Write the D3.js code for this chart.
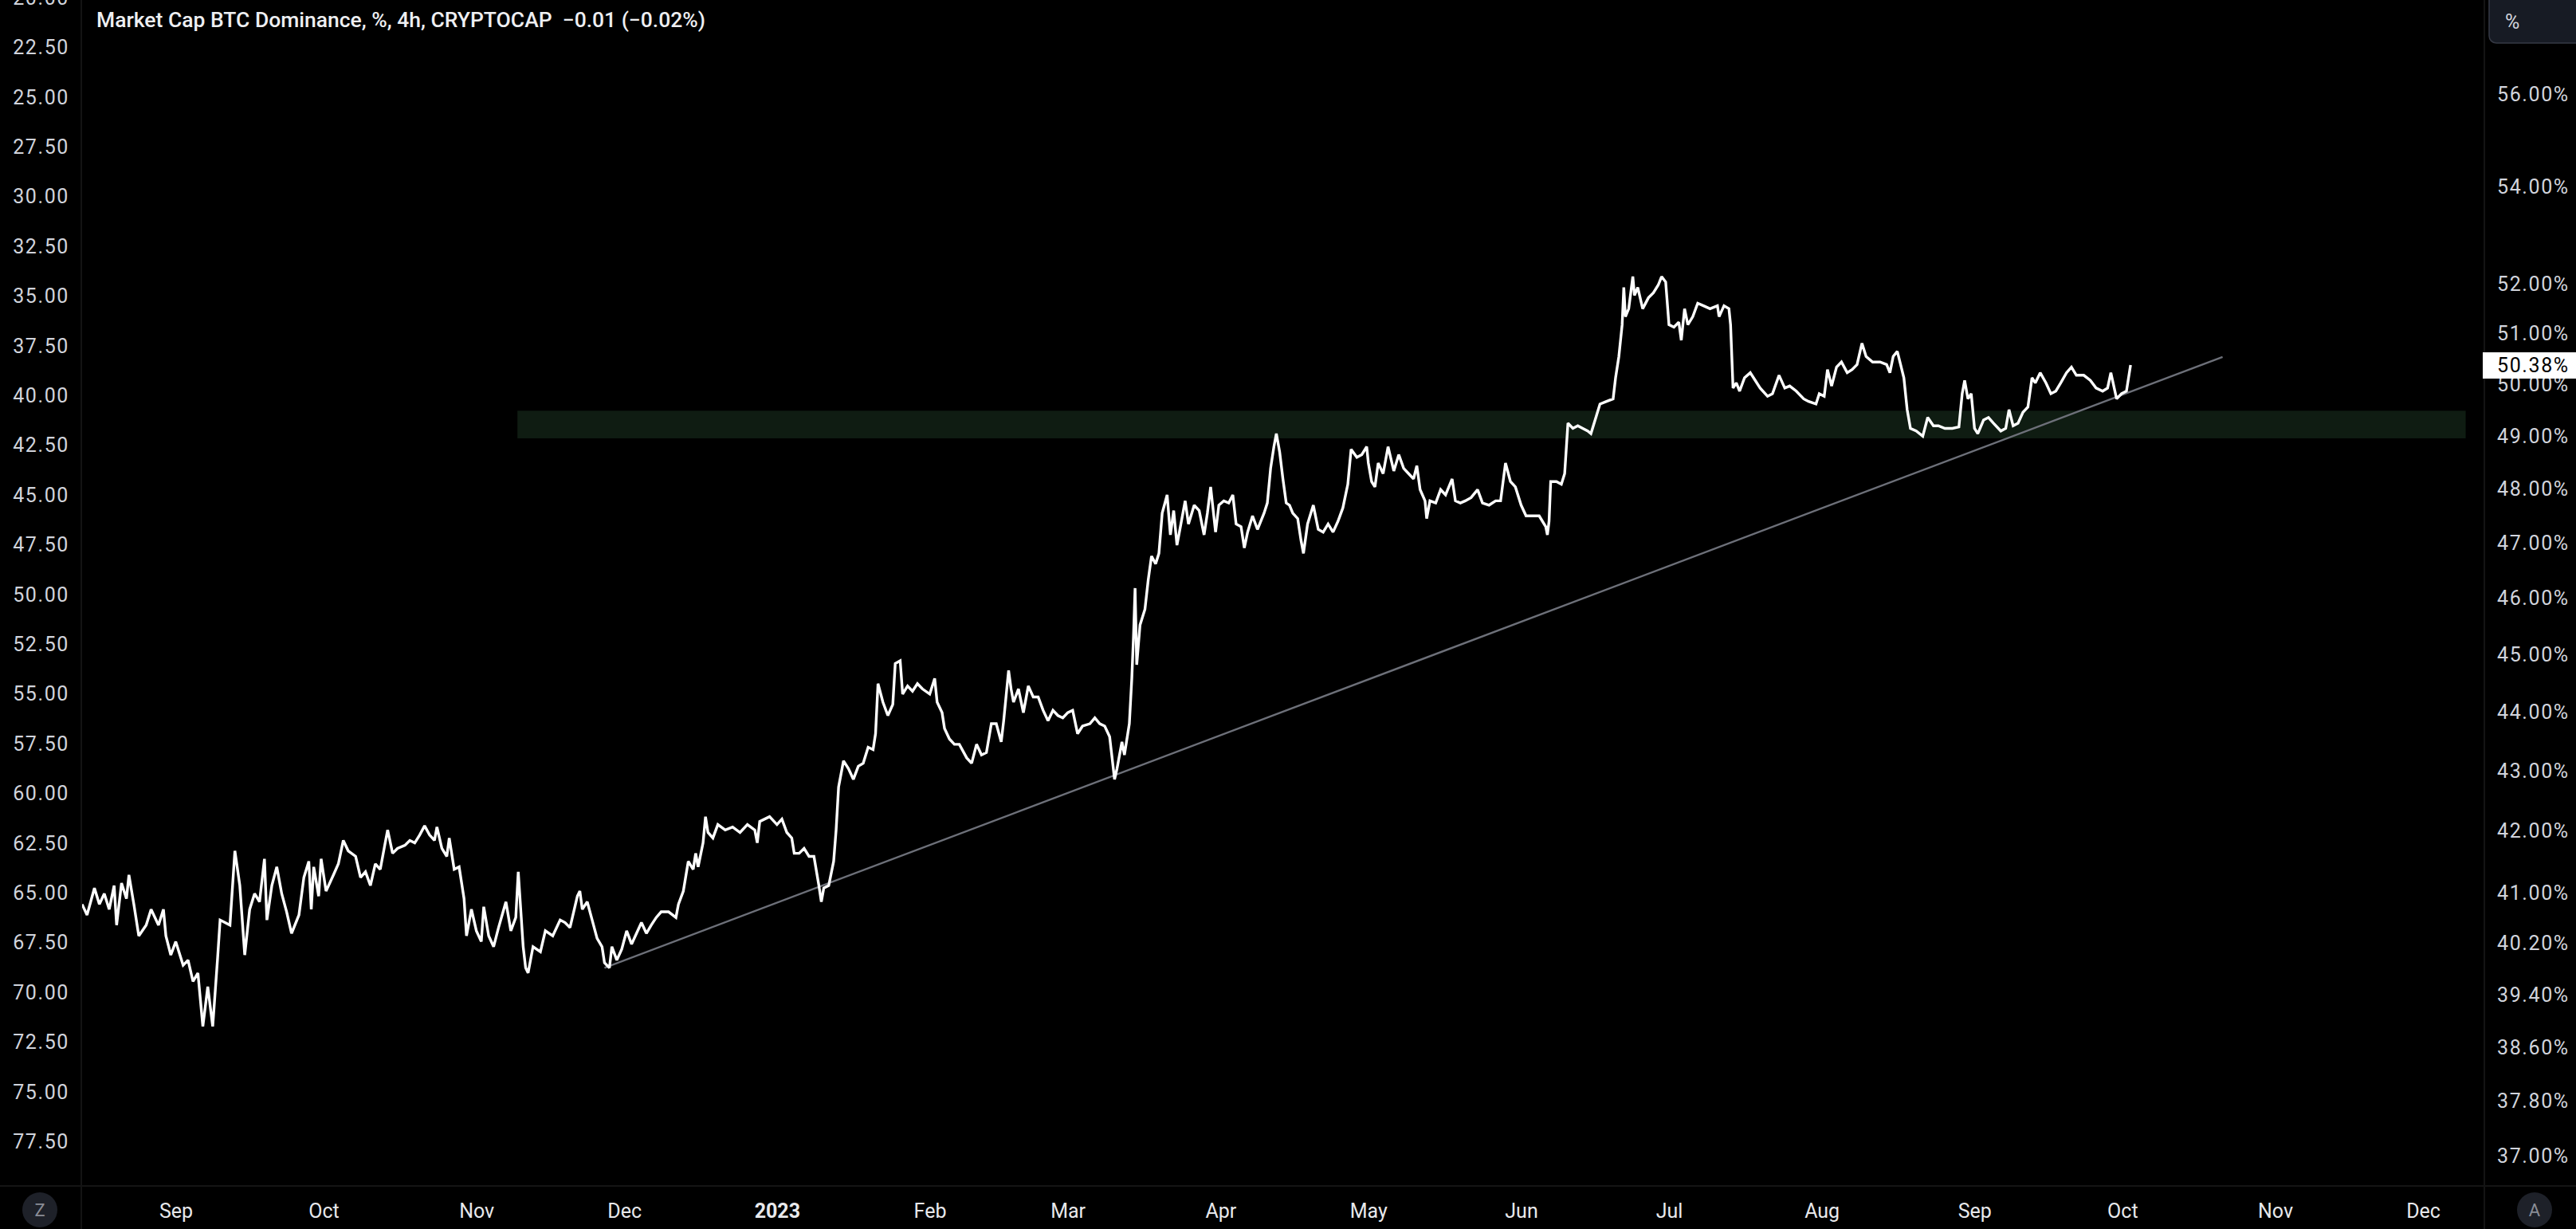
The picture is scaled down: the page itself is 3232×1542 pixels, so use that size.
<!DOCTYPE html>
<html><head><meta charset="utf-8">
<script src="https://cdn.jsdelivr.net/npm/d3@7"></script>
<style>
html,body{margin:0;padding:0;background:#000;overflow:hidden;}
svg{display:block;}
</style></head>
<body>
<svg id="chart" width="3232" height="1542"></svg>
<script>
// ---------------- DATA ----------------
const chartTitle = "Market Cap BTC Dominance, %, 4h, CRYPTOCAP  \u22120.01 (\u22120.02%)";
const lastValue = 50.38;

// BTC dominance (%): [time (UTC, YYYY-MM-DDTHH), value]
const series = [
["2022-08-13T00",40.82],["2022-08-14T00",40.65],["2022-08-15T12",41.08],["2022-08-16T12",40.82],
["2022-08-17T12",40.99],["2022-08-18T12",40.74],["2022-08-19T12",41.12],["2022-08-20T00",40.49],
["2022-08-21T00",41.16],["2022-08-22T00",40.91],["2022-08-22T12",41.29],["2022-08-23T12",40.82],
["2022-08-24T12",40.32],["2022-08-26T00",40.49],["2022-08-27T00",40.74],["2022-08-28T12",40.49],
["2022-08-29T12",40.74],["2022-08-30T00",40.32],["2022-08-31T00",40.02],["2022-09-01T00",40.23],
["2022-09-02T12",39.86],["2022-09-03T12",39.94],["2022-09-04T12",39.61],["2022-09-05T12",39.74],
["2022-09-06T12",38.92],["2022-09-07T12",39.53],["2022-09-08T12",38.92],["2022-09-09T12",39.98],
["2022-09-10T00",40.57],["2022-09-11T00",40.53],["2022-09-12T00",40.49],["2022-09-13T00",41.68],
["2022-09-14T00",41.12],["2022-09-15T00",40.02],["2022-09-16T00",40.74],["2022-09-17T00",40.99],
["2022-09-18T00",40.86],["2022-09-19T00",41.55],["2022-09-19T12",40.57],["2022-09-20T12",41.12],
["2022-09-21T12",41.42],["2022-09-22T12",40.99],["2022-09-23T12",40.70],["2022-09-24T12",40.36],
["2022-09-26T00",40.65],["2022-09-27T00",41.25],["2022-09-28T00",41.51],["2022-09-28T12",40.74],
["2022-09-29T00",41.42],["2022-09-30T00",40.95],["2022-09-30T12",41.55],["2022-10-01T12",41.03],
["2022-10-03T00",41.29],["2022-10-04T00",41.47],["2022-10-05T00",41.85],["2022-10-06T00",41.68],
["2022-10-07T12",41.59],["2022-10-08T12",41.25],["2022-10-09T12",41.34],["2022-10-10T12",41.12],
["2022-10-11T12",41.47],["2022-10-12T12",41.38],["2022-10-13T12",41.81],["2022-10-14T00",42.02],
["2022-10-15T00",41.64],["2022-10-16T00",41.72],["2022-10-17T12",41.77],["2022-10-18T12",41.85],
["2022-10-19T12",41.81],["2022-10-20T12",41.94],["2022-10-21T12",42.09],["2022-10-22T12",41.94],
["2022-10-23T12",41.85],["2022-10-24T00",42.07],["2022-10-25T00",41.72],["2022-10-26T00",41.59],
["2022-10-26T12",41.89],["2022-10-27T12",41.38],["2022-10-28T12",41.42],["2022-10-29T12",40.91],
["2022-10-30T00",40.32],["2022-10-31T00",40.74],["2022-11-01T00",40.40],["2022-11-02T00",40.23],
["2022-11-02T12",40.78],["2022-11-03T12",40.32],["2022-11-04T12",40.15],["2022-11-05T12",40.45],
["2022-11-07T00",40.86],["2022-11-08T00",40.40],["2022-11-09T00",40.61],["2022-11-09T12",41.34],
["2022-11-10T12",40.15],["2022-11-11T00",39.82],["2022-11-11T12",39.74],["2022-11-12T12",40.15],
["2022-11-14T00",40.07],["2022-11-15T00",40.40],["2022-11-16T12",40.32],["2022-11-18T00",40.57],
["2022-11-19T00",40.53],["2022-11-20T00",40.45],["2022-11-21T12",40.95],["2022-11-22T00",41.03],
["2022-11-22T12",40.74],["2022-11-23T12",40.86],["2022-11-24T12",40.57],["2022-11-25T12",40.28],
["2022-11-26T12",40.15],["2022-11-27T00",39.90],["2022-11-28T00",39.82],["2022-11-28T12",40.15],
["2022-11-29T12",39.94],["2022-11-30T12",40.11],["2022-12-01T12",40.40],["2022-12-02T12",40.19],
["2022-12-03T12",40.36],["2022-12-04T12",40.53],["2022-12-05T12",40.36],["2022-12-06T12",40.49],
["2022-12-07T12",40.61],["2022-12-08T12",40.70],["2022-12-10T00",40.70],["2022-12-11T12",40.61],
["2022-12-12T00",40.82],["2022-12-13T00",41.03],["2022-12-14T00",41.51],["2022-12-15T00",41.38],
["2022-12-15T12",41.64],["2022-12-16T00",41.42],["2022-12-17T00",41.81],["2022-12-17T12",42.24],
["2022-12-18T00",41.98],["2022-12-19T00",41.89],["2022-12-20T00",42.11],["2022-12-21T12",42.02],
["2022-12-23T00",42.07],["2022-12-24T12",41.98],["2022-12-26T00",42.11],["2022-12-27T12",42.02],
["2022-12-28T00",41.81],["2022-12-28T12",42.16],["2022-12-30T12",42.24],["2023-01-01T00",42.11],
["2023-01-02T00",42.20],["2023-01-03T00",41.98],["2023-01-04T00",41.89],["2023-01-04T12",41.64],
["2023-01-05T12",41.64],["2023-01-06T12",41.72],["2023-01-07T12",41.59],["2023-01-08T12",41.59],
["2023-01-09T12",41.12],["2023-01-10T00",40.86],["2023-01-10T12",41.08],["2023-01-11T12",41.12],
["2023-01-12T12",41.51],["2023-01-13T00",42.02],["2023-01-13T12",42.73],["2023-01-14T12",43.17],
["2023-01-15T12",43.04],["2023-01-16T12",42.86],["2023-01-17T12",43.08],["2023-01-18T12",43.13],
["2023-01-19T12",43.40],["2023-01-20T12",43.36],["2023-01-21T00",43.63],["2023-01-21T12",44.49],
["2023-01-22T12",44.17],["2023-01-23T12",43.94],["2023-01-24T12",44.13],["2023-01-25T00",44.84],
["2023-01-26T00",44.89],["2023-01-26T12",44.31],["2023-01-27T12",44.45],["2023-01-28T12",44.36],
["2023-01-29T12",44.49],["2023-01-30T12",44.40],["2023-02-01T00",44.31],["2023-02-02T00",44.58],
["2023-02-02T12",44.17],["2023-02-03T12",43.99],["2023-02-04T00",43.72],["2023-02-05T00",43.54],
["2023-02-06T00",43.45],["2023-02-07T00",43.45],["2023-02-08T12",43.22],["2023-02-09T12",43.13],
["2023-02-10T12",43.45],["2023-02-11T12",43.27],["2023-02-12T12",43.31],["2023-02-13T12",43.80],
["2023-02-14T12",43.80],["2023-02-15T12",43.49],["2023-02-16T00",43.85],["2023-02-17T00",44.72],
["2023-02-17T12",44.40],["2023-02-18T00",44.17],["2023-02-19T00",44.40],["2023-02-20T00",43.99],
["2023-02-21T00",44.45],["2023-02-22T00",44.26],["2023-02-23T00",44.26],["2023-02-24T00",44.03],
["2023-02-25T00",43.85],["2023-02-26T00",44.03],["2023-02-27T00",43.94],["2023-02-28T00",43.90],
["2023-03-01T00",43.99],["2023-03-02T00",44.03],["2023-03-03T00",43.63],["2023-03-04T00",43.76],
["2023-03-05T12",43.80],["2023-03-06T12",43.90],["2023-03-07T12",43.80],["2023-03-08T12",43.76],
["2023-03-09T12",43.58],["2023-03-10T00",43.22],["2023-03-10T12",42.86],["2023-03-11T00",43.04],
["2023-03-12T00",43.49],["2023-03-12T12",43.27],["2023-03-13T12",43.80],["2023-03-14T00",44.58],
["2023-03-14T08",45.29],["2023-03-14T16",46.18],["2023-03-15T00",44.82],["2023-03-15T16",45.52],
["2023-03-16T16",45.80],["2023-03-17T08",46.33],["2023-03-18T00",46.76],["2023-03-18T20",46.62],
["2023-03-19T12",46.81],["2023-03-20T04",47.55],["2023-03-21T04",47.89],["2023-03-21T20",47.15],
["2023-03-22T12",47.60],["2023-03-23T04",46.96],["2023-03-24T04",47.45],["2023-03-24T20",47.78],
["2023-03-25T12",47.35],["2023-03-26T16",47.70],["2023-03-27T16",47.60],["2023-03-28T16",47.15],
["2023-03-29T08",47.55],["2023-03-30T00",48.04],["2023-03-31T00",47.20],["2023-03-31T16",47.70],
["2023-04-01T16",47.78],["2023-04-02T16",47.74],["2023-04-03T12",47.89],["2023-04-04T04",47.35],
["2023-04-05T04",47.30],["2023-04-05T20",46.91],["2023-04-06T12",47.20],["2023-04-07T12",47.50],
["2023-04-08T12",47.25],["2023-04-09T20",47.55],["2023-04-10T12",47.74],["2023-04-11T04",48.39],
["2023-04-11T20",48.80],["2023-04-12T08",49.05],["2023-04-13T00",48.70],["2023-04-13T16",48.19],
["2023-04-14T08",47.74],["2023-04-15T00",47.70],["2023-04-15T16",47.55],["2023-04-16T16",47.45],
["2023-04-17T08",47.05],["2023-04-17T20",46.81],["2023-04-18T16",47.35],["2023-04-19T20",47.70],
["2023-04-20T20",47.25],["2023-04-21T20",47.20],["2023-04-22T20",47.35],["2023-04-23T20",47.20],
["2023-04-24T20",47.40],["2023-04-25T20",47.65],["2023-04-26T20",48.09],["2023-04-27T12",48.75],
["2023-04-28T16",48.60],["2023-04-29T16",48.65],["2023-04-30T16",48.80],["2023-05-01T00",48.49],
["2023-05-01T16",48.14],["2023-05-02T08",48.04],["2023-05-03T00",48.49],["2023-05-04T00",48.29],
["2023-05-05T00",48.80],["2023-05-06T04",48.34],["2023-05-07T04",48.65],["2023-05-08T04",48.39],
["2023-05-09T04",48.29],["2023-05-10T04",48.19],["2023-05-10T20",48.44],["2023-05-11T12",47.99],
["2023-05-12T12",47.78],["2023-05-12T20",47.45],["2023-05-13T12",47.78],["2023-05-14T16",47.74],
["2023-05-15T16",47.99],["2023-05-16T16",47.89],["2023-05-18T00",48.19],["2023-05-18T16",47.78],
["2023-05-19T16",47.74],["2023-05-20T16",47.78],["2023-05-21T20",47.84],["2023-05-23T04",47.99],
["2023-05-24T04",47.74],["2023-05-25T12",47.70],["2023-05-26T20",47.78],["2023-05-27T20",47.78],
["2023-05-28T20",48.49],["2023-05-29T20",48.14],["2023-05-30T20",48.04],["2023-06-01T00",47.70],
["2023-06-02T00",47.50],["2023-06-03T08",47.50],["2023-06-04T16",47.50],["2023-06-06T00",47.30],
["2023-06-06T08",47.15],["2023-06-06T16",47.40],["2023-06-07T00",48.14],["2023-06-08T04",48.14],
["2023-06-09T04",48.09],["2023-06-09T20",48.29],["2023-06-10T12",49.25],["2023-06-11T12",49.15],
["2023-06-12T12",49.20],["2023-06-13T12",49.15],["2023-06-14T12",49.10],["2023-06-15T04",49.05],
["2023-06-16T08",49.41],["2023-06-17T00",49.62],["2023-06-18T08",49.67],["2023-06-19T16",49.72],
["2023-06-20T04",50.13],["2023-06-20T20",50.55],["2023-06-21T12",51.18],["2023-06-21T20",51.93],
["2023-06-22T04",51.34],["2023-06-22T20",51.50],["2023-06-23T16",52.15],["2023-06-24T00",51.77],
["2023-06-24T16",51.93],["2023-06-25T16",51.50],["2023-06-26T20",51.72],["2023-06-27T20",51.82],
["2023-06-28T20",51.98],["2023-06-29T12",52.15],["2023-06-30T08",52.04],["2023-07-01T00",51.18],
["2023-07-02T00",51.13],["2023-07-03T00",51.23],["2023-07-03T12",50.87],["2023-07-04T04",51.50],
["2023-07-04T20",51.18],["2023-07-05T20",51.34],["2023-07-06T20",51.61],["2023-07-08T00",51.56],
["2023-07-09T08",51.50],["2023-07-10T20",51.56],["2023-07-11T04",51.34],["2023-07-12T04",51.56],
["2023-07-13T04",51.50],["2023-07-13T12",51.18],["2023-07-14T00",49.93],["2023-07-14T16",50.03],
["2023-07-15T08",49.87],["2023-07-16T08",50.13],["2023-07-17T12",50.23],["2023-07-18T12",50.08],
["2023-07-19T12",49.93],["2023-07-21T00",49.77],["2023-07-22T00",49.82],["2023-07-23T08",50.18],
["2023-07-24T12",49.93],["2023-07-25T12",49.97],["2023-07-26T20",49.87],["2023-07-28T08",49.72],
["2023-07-29T08",49.67],["2023-07-30T20",49.62],["2023-07-31T12",49.82],["2023-08-01T12",49.77],
["2023-08-02T04",50.29],["2023-08-03T00",49.97],["2023-08-04T00",50.34],["2023-08-05T00",50.44],
["2023-08-06T04",50.23],["2023-08-07T04",50.29],["2023-08-08T04",50.39],["2023-08-09T04",50.81],
["2023-08-10T00",50.55],["2023-08-11T08",50.44],["2023-08-12T20",50.44],["2023-08-14T04",50.39],
["2023-08-14T20",50.23],["2023-08-15T12",50.55],["2023-08-16T08",50.65],["2023-08-17T00",50.39],
["2023-08-17T16",50.13],["2023-08-18T08",49.51],["2023-08-19T00",49.15],["2023-08-20T04",49.10],
["2023-08-21T12",49.00],["2023-08-22T12",49.36],["2023-08-23T16",49.20],["2023-08-24T16",49.20],
["2023-08-26T00",49.15],["2023-08-27T12",49.15],["2023-08-28T20",49.18],["2023-08-29T12",49.82],
["2023-08-30T00",50.08],["2023-08-30T16",49.72],["2023-08-31T08",49.82],["2023-09-01T00",49.15],
["2023-09-01T16",49.05],["2023-09-02T20",49.31],["2023-09-03T20",49.36],["2023-09-04T20",49.25],
["2023-09-06T08",49.10],["2023-09-07T08",49.15],["2023-09-08T00",49.51],["2023-09-08T20",49.20],
["2023-09-09T20",49.25],["2023-09-10T20",49.46],["2023-09-11T20",49.56],["2023-09-12T16",50.13],
["2023-09-13T08",50.03],["2023-09-14T08",50.23],["2023-09-15T12",50.03],["2023-09-16T12",49.82],
["2023-09-17T12",49.87],["2023-09-18T12",50.03],["2023-09-19T16",50.23],["2023-09-20T16",50.34],
["2023-09-21T16",50.18],["2023-09-23T04",50.18],["2023-09-24T12",50.08],["2023-09-25T16",49.93],
["2023-09-27T00",49.87],["2023-09-28T00",49.93],["2023-09-28T16",50.23],["2023-09-29T20",49.72],
["2023-09-30T20",49.82],["2023-10-01T20",49.87],["2023-10-02T16",50.38]
];

// trend line anchors [time, value]
const trendTimes = ["2022-11-27T00", "2023-10-21T08"];
const trendValues = [39.82, 50.54];

// highlighted zone (rectangle) anchors
const zoneTimes = ["2022-11-09T08", "2023-12-09T16"];
const zoneValues = [49.49, 48.96];

// axis ticks
const rightTicks = [56, 54, 52, 51, 50, 49, 48, 47, 46, 45, 44, 43, 42, 41, 40.2, 39.4, 38.6, 37.8, 37];
const leftTicks = [20, 22.5, 25, 27.5, 30, 32.5, 35, 37.5, 40, 42.5, 45, 47.5, 50, 52.5, 55, 57.5, 60, 62.5, 65, 67.5, 70, 72.5, 75, 77.5];
const monthTicks = ["2022-09-01","2022-10-01","2022-11-01","2022-12-01","2023-01-01","2023-02-01","2023-03-01","2023-04-01","2023-05-01","2023-06-01","2023-07-01","2023-08-01","2023-09-01","2023-10-01","2023-11-01","2023-12-01"];
const monthLabels = ["Sep","Oct","Nov","Dec","2023","Feb","Mar","Apr","May","Jun","Jul","Aug","Sep","Oct","Nov","Dec"];

// ---------------- DRAW ----------------
const W = 3232, H = 1542;
const plotLeft = 102, plotRight = 3117, plotBottom = 1488;
const FONT = "Roboto, 'Noto Sans', sans-serif";
const TXT = "#d1d4dc";

const parseT = d3.utcParse("%Y-%m-%dT%H");
const parseD = d3.utcParse("%Y-%m-%d");

const x = d3.scaleUtc()
  .domain([parseD("2022-09-01"), parseD("2023-12-01")])
  .range([220.5, 3040]);
const y = d3.scaleLog().domain([37, 56]).range([1450.5, 118]);
const yLeft = d3.scaleLinear().domain([22.5, 77.5]).range([59.8, 1432.4]);

const svg = d3.select("#chart");
svg.append("rect").attr("width", W).attr("height", H).attr("fill", "#000");

const defs = svg.append("defs");
defs.append("clipPath").attr("id", "plotclip")
  .append("rect").attr("x", plotLeft + 1).attr("y", 0)
  .attr("width", plotRight - plotLeft - 1).attr("height", plotBottom);

const plot = svg.append("g").attr("clip-path", "url(#plotclip)");

// zone
const zx0 = x(parseT(zoneTimes[0])), zx1 = x(parseT(zoneTimes[1]));
const zy0 = y(zoneValues[0]), zy1 = y(zoneValues[1]);
plot.append("rect")
  .attr("x", zx0).attr("y", zy0)
  .attr("width", zx1 - zx0).attr("height", zy1 - zy0)
  .attr("fill", "#0f1c12");

// trend line
plot.append("line")
  .attr("x1", x(parseT(trendTimes[0]))).attr("y1", y(trendValues[0]))
  .attr("x2", x(parseT(trendTimes[1]))).attr("y2", y(trendValues[1]))
  .attr("stroke", "#6d7079").attr("stroke-width", 2.4);

// series line
const line = d3.line()
  .x(d => x(parseT(d[0])))
  .y(d => y(d[1]));
plot.append("path")
  .datum(series)
  .attr("d", line)
  .attr("fill", "none")
  .attr("stroke", "#ffffff")
  .attr("stroke-width", 3.4)
  .attr("stroke-linejoin", "miter")
  .attr("stroke-miterlimit", 2);

// separators
svg.append("line").attr("x1", plotLeft).attr("x2", plotLeft).attr("y1", 0).attr("y2", H)
  .attr("stroke", "#141414").attr("stroke-width", 2);
svg.append("line").attr("x1", plotRight).attr("x2", plotRight).attr("y1", 0).attr("y2", H)
  .attr("stroke", "#141414").attr("stroke-width", 2);
svg.append("line").attr("x1", 0).attr("x2", W).attr("y1", plotBottom).attr("y2", plotBottom)
  .attr("stroke", "#141414").attr("stroke-width", 2);

function styleAxis(g) {
  g.select(".domain").remove();
  g.selectAll(".tick line").remove();
  g.attr("font-family", FONT).attr("font-size", 25);
  g.selectAll("text").attr("fill", TXT).style("letter-spacing", "1.6px");
}

// left axis
svg.append("g")
  .attr("transform", `translate(87,0)`)
  .call(d3.axisLeft(yLeft).tickValues(leftTicks).tickFormat(d3.format(".2f")).tickSize(0).tickPadding(0))
  .call(styleAxis);

// right axis
svg.append("g")
  .attr("transform", `translate(3133,0)`)
  .call(d3.axisRight(y).tickValues(rightTicks).tickFormat(d => d3.format(".2f")(d) + "%").tickSize(0).tickPadding(0))
  .call(styleAxis);

// bottom axis
const xa = svg.append("g")
  .attr("transform", `translate(0,1519)`)
  .call(d3.axisBottom(x).tickValues(monthTicks.map(parseD)).tickFormat((d, i) => monthLabels[i]).tickSize(0).tickPadding(0));
xa.select(".domain").remove();
xa.selectAll(".tick line").remove();
xa.attr("font-family", FONT).attr("font-size", 25);
xa.selectAll("text").attr("fill", "#e8e9ec").attr("y", 0).attr("dy", "0.35em")
  .attr("font-weight", (d, i) => monthLabels[i] === "2023" ? "bold" : "normal");

// last value label
const ly = y(lastValue);
svg.append("rect").attr("x", 3115).attr("y", ly - 16).attr("width", W - 3115).attr("height", 33)
  .attr("fill", "#ffffff");
svg.append("text").attr("x", 3133).attr("y", ly).attr("dy", "0.35em")
  .attr("font-family", FONT).attr("font-size", 25).attr("fill", "#000")
  .style("letter-spacing", "1.6px")
  .text(d3.format(".2f")(lastValue) + "%");

// % button
svg.append("rect").attr("x", 3123).attr("y", -10).attr("width", 120).attr("height", 64).attr("rx", 9)
  .attr("fill", "#171b24").attr("stroke", "#363a45").attr("stroke-width", 1.5);
svg.append("text").attr("x", 3143).attr("y", 27).attr("dy", "0.35em")
  .attr("font-family", FONT).attr("font-size", 25).attr("fill", TXT).text("%");

// Z and A buttons
svg.append("circle").attr("cx", 50).attr("cy", 1518).attr("r", 22).attr("fill", "#1e2129");
svg.append("text").attr("x", 50).attr("y", 1518).attr("dy", "0.35em").attr("text-anchor", "middle")
  .attr("font-family", FONT).attr("font-size", 22).attr("fill", "#8a8d96").text("Z");
svg.append("circle").attr("cx", 3180).attr("cy", 1518).attr("r", 22).attr("fill", "#1e2129");
svg.append("text").attr("x", 3180).attr("y", 1518).attr("dy", "0.35em").attr("text-anchor", "middle")
  .attr("font-family", FONT).attr("font-size", 22).attr("fill", "#8a8d96").text("A");

// title
svg.append("text").attr("x", 121).attr("y", 34)
  .attr("font-family", FONT).attr("font-size", 26).attr("font-weight", 500).attr("fill", "#eeeff2")
  .attr("xml:space", "preserve")
  .attr("textLength", 764).attr("lengthAdjust", "spacingAndGlyphs")
  .text(chartTitle);
</script>
</body></html>
